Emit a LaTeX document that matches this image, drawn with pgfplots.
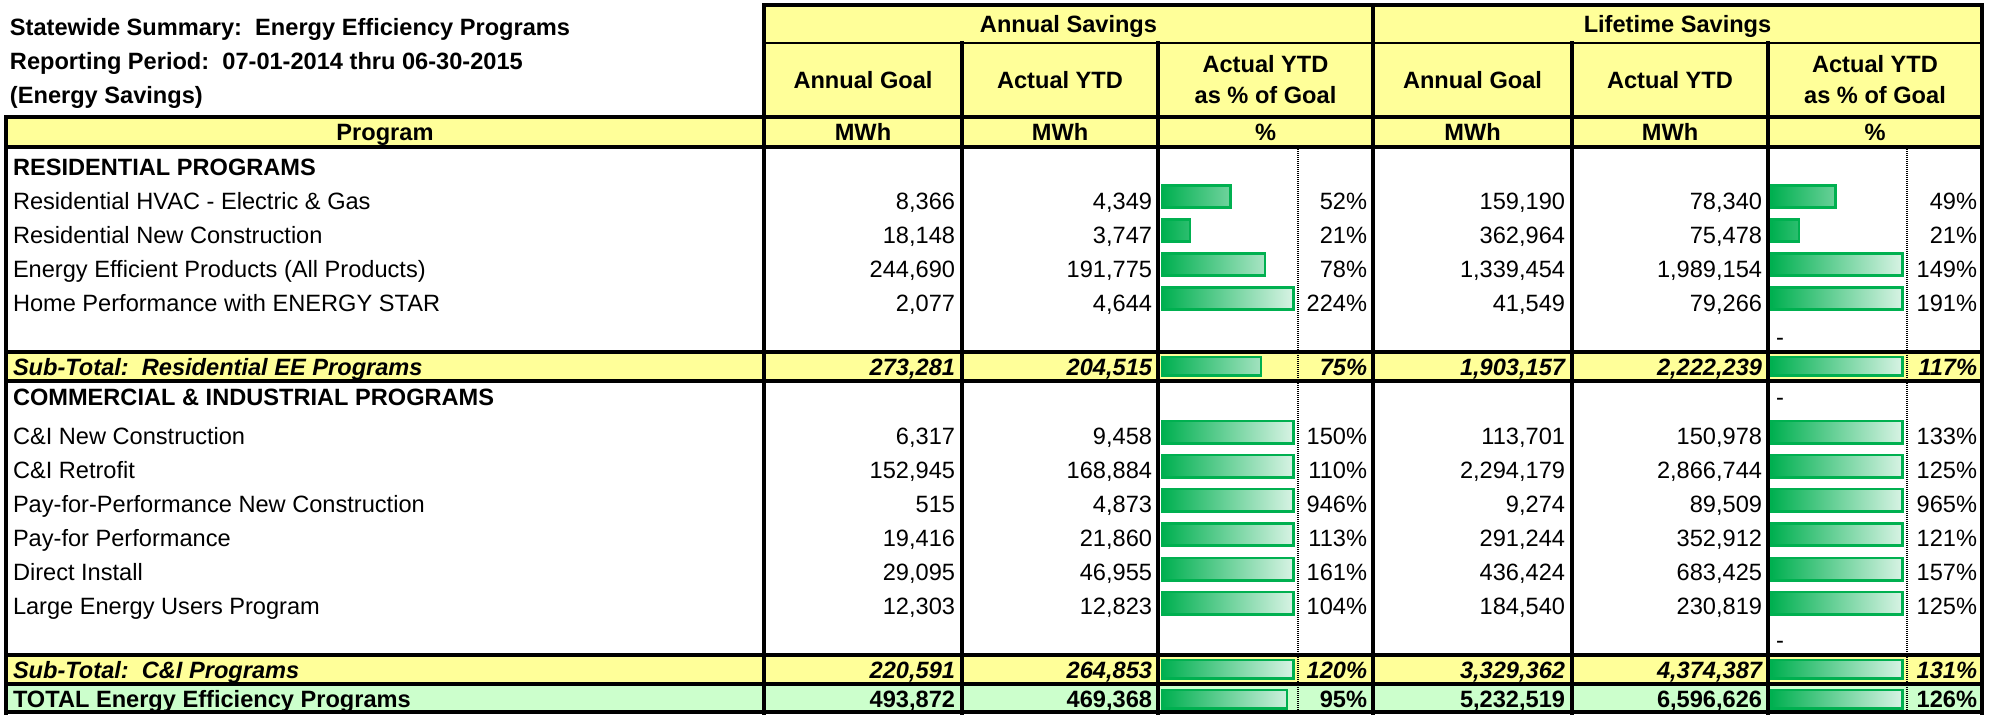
\documentclass[border=0pt]{standalone}
\usepackage{fontspec}
\setmainfont{Liberation Sans}
\usepackage{pgfplots}
\usepackage{pgfplotstable}
\pgfplotsset{compat=1.18}
\definecolor{hdr}{HTML}{FFFF99}
\definecolor{tot}{HTML}{CCFFCC}
\definecolor{barg}{HTML}{00B050}
\frenchspacing

% Annual savings: actual YTD as % of goal (row centre in px, percent)
\pgfplotstableread{
y pct
196.5 52
230.5 21
264.5 78
298.5 224
432 150
466 110
500 946
534.5 113
569 161
603 104
}\annreg
\pgfplotstableread{
y pct
366 75
669 120
699 95
}\anntot
% Lifetime savings
\pgfplotstableread{
y pct
196.5 49
230.5 21
264.5 149
298.5 191
432 133
466 125
500 965
534.5 121
569 157
603 125
}\lifereg
\pgfplotstableread{
y pct
366 117
669 131
699 126
}\lifetot

\newcommand{\fs}{\fontsize{11.8pt}{14pt}\selectfont}
\newcommand{\datarow}[8]{%
 \node[anchor=base east,font=#8] at (axis cs:955,#1) {#2};
 \node[anchor=base east,font=#8] at (axis cs:1152,#1) {#3};
 \node[anchor=base east,font=#8] at (axis cs:1367,#1) {#4};
 \node[anchor=base east,font=#8] at (axis cs:1565,#1) {#5};
 \node[anchor=base east,font=#8] at (axis cs:1762,#1) {#6};
 \node[anchor=base east,font=#8] at (axis cs:1977,#1) {#7};
}
\newcommand{\lab}[3]{\node[anchor=base west,font=#3] at (axis cs:13,#1) {#2};}

\begin{document}
\begin{tikzpicture}
\useasboundingbox (0,0) rectangle (997.5pt,357pt);
\tikzset{every node/.style={inner sep=0pt, outer sep=0pt}}
\pgfplotsset{tbl/.style={scale only axis, height=357pt, ymin=0, ymax=714, y dir=reverse, hide axis, clip=false, anchor=south west}}

\begin{axis}[tbl, at={(0pt,0pt)}, width=997.5pt, xmin=0, xmax=1995]
\addplot[draw=none, forget plot] coordinates {(0,0) (1995,714)};
% fills
\fill[hdr] (axis cs:764,5) rectangle (axis cs:1982,147);
\fill[hdr] (axis cs:6,117) rectangle (axis cs:764,147);
\fill[hdr] (axis cs:6,352) rectangle (axis cs:1982,381);
\fill[hdr] (axis cs:6,655) rectangle (axis cs:1982,684);
\fill[tot] (axis cs:6,684) rectangle (axis cs:1982,712);
% grid lines
\begin{scope}[line width=1.55pt, line cap=rect]
\draw (axis cs:764,5) -- (axis cs:1982,5);
\draw[line width=1.3pt] (axis cs:764,43) -- (axis cs:1982,43);
\foreach \yy in {117,147,352,381,655,684,712}{
  \edef\tmp{\noexpand\draw (axis cs:6,\yy) -- (axis cs:1982,\yy);}\tmp
}
\draw (axis cs:6,117) -- (axis cs:6,713);
\draw (axis cs:764,5) -- (axis cs:764,713);
\draw (axis cs:962,43) -- (axis cs:962,713);
\draw (axis cs:1158,43) -- (axis cs:1158,713);
\draw (axis cs:1373,5) -- (axis cs:1373,713);
\draw (axis cs:1572,43) -- (axis cs:1572,713);
\draw (axis cs:1768,43) -- (axis cs:1768,713);
\draw (axis cs:1982,5) -- (axis cs:1982,713);
\end{scope}
\draw[line width=1.2pt, dash pattern=on 0.6pt off 0.4pt] (axis cs:1298,147) -- (axis cs:1298,712);
\draw[line width=1.2pt, dash pattern=on 0.6pt off 0.4pt] (axis cs:1907,147) -- (axis cs:1907,712);

% titles
\node[anchor=base west,font=\fs\bfseries] at (axis cs:10,35) {Statewide Summary:\ \ Energy Efficiency Programs};
\node[anchor=base west,font=\fs\bfseries] at (axis cs:10,69) {Reporting Period:\ \ 07-01-2014 thru 06-30-2015};
\node[anchor=base west,font=\fs\bfseries] at (axis cs:10,103) {(Energy Savings)};
% headers
\node[anchor=base,font=\fs\bfseries] at (axis cs:1068.5,32) {Annual Savings};
\node[anchor=base,font=\fs\bfseries] at (axis cs:1677.5,32) {Lifetime Savings};
\node[anchor=base,font=\fs\bfseries] at (axis cs:863,88) {Annual Goal};
\node[anchor=base,font=\fs\bfseries] at (axis cs:1060,88) {Actual YTD};
\node[anchor=base,font=\fs\bfseries] at (axis cs:1265.5,72) {Actual YTD};
\node[anchor=base,font=\fs\bfseries] at (axis cs:1265.5,103) {as \% of Goal};
\node[anchor=base,font=\fs\bfseries] at (axis cs:1472.5,88) {Annual Goal};
\node[anchor=base,font=\fs\bfseries] at (axis cs:1670,88) {Actual YTD};
\node[anchor=base,font=\fs\bfseries] at (axis cs:1875,72) {Actual YTD};
\node[anchor=base,font=\fs\bfseries] at (axis cs:1875,103) {as \% of Goal};
\node[anchor=base,font=\fs\bfseries] at (axis cs:385,140) {Program};
\node[anchor=base,font=\fs\bfseries] at (axis cs:863,140) {MWh};
\node[anchor=base,font=\fs\bfseries] at (axis cs:1060,140) {MWh};
\node[anchor=base,font=\fs\bfseries] at (axis cs:1265.5,140) {\%};
\node[anchor=base,font=\fs\bfseries] at (axis cs:1472.5,140) {MWh};
\node[anchor=base,font=\fs\bfseries] at (axis cs:1670,140) {MWh};
\node[anchor=base,font=\fs\bfseries] at (axis cs:1875,140) {\%};

% row labels
\lab{175}{RESIDENTIAL PROGRAMS}{\fs\bfseries}
\lab{209}{Residential HVAC - Electric \& Gas}{\fs}
\lab{243}{Residential New Construction}{\fs}
\lab{277}{Energy Efficient Products (All Products)}{\fs}
\lab{311}{Home Performance with ENERGY STAR}{\fs}
\lab{375}{Sub-Total:\ \ Residential EE Programs}{\fs\bfseries\itshape}
\lab{405}{COMMERCIAL \& INDUSTRIAL PROGRAMS}{\fs\bfseries}
\lab{444}{C\&I New Construction}{\fs}
\lab{478}{C\&I Retrofit}{\fs}
\lab{512}{Pay-for-Performance New Construction}{\fs}
\lab{546}{Pay-for Performance}{\fs}
\lab{580}{Direct Install}{\fs}
\lab{614}{Large Energy Users Program}{\fs}
\lab{678}{Sub-Total:\ \ C\&I Programs}{\fs\bfseries\itshape}
\lab{707}{TOTAL Energy Efficiency Programs}{\fs\bfseries}

% numbers
\datarow{209}{8,366}{4,349}{52\%}{159,190}{78,340}{49\%}{\fs}
\datarow{243}{18,148}{3,747}{21\%}{362,964}{75,478}{21\%}{\fs}
\datarow{277}{244,690}{191,775}{78\%}{1,339,454}{1,989,154}{149\%}{\fs}
\datarow{311}{2,077}{4,644}{224\%}{41,549}{79,266}{191\%}{\fs}
\datarow{375}{273,281}{204,515}{75\%}{1,903,157}{2,222,239}{117\%}{\fs\bfseries\itshape}
\datarow{444}{6,317}{9,458}{150\%}{113,701}{150,978}{133\%}{\fs}
\datarow{478}{152,945}{168,884}{110\%}{2,294,179}{2,866,744}{125\%}{\fs}
\datarow{512}{515}{4,873}{946\%}{9,274}{89,509}{965\%}{\fs}
\datarow{546}{19,416}{21,860}{113\%}{291,244}{352,912}{121\%}{\fs}
\datarow{580}{29,095}{46,955}{161\%}{436,424}{683,425}{157\%}{\fs}
\datarow{614}{12,303}{12,823}{104\%}{184,540}{230,819}{125\%}{\fs}
\datarow{678}{220,591}{264,853}{120\%}{3,329,362}{4,374,387}{131\%}{\fs\bfseries\itshape}
\datarow{707}{493,872}{469,368}{95\%}{5,232,519}{6,596,626}{126\%}{\fs\bfseries}
% dashes
\node[anchor=base west,font=\fs] at (axis cs:1776,345) {-};
\node[anchor=base west,font=\fs] at (axis cs:1776,405) {-};
\node[anchor=base west,font=\fs] at (axis cs:1776,648) {-};
\end{axis}

% data bars, annual
\begin{axis}[tbl, at={(581.15pt,0pt)}, width=65.7pt, xmin=0, xmax=100]
\addplot[xbar, bar shift=0pt, bar width=11.2pt, draw=barg, line width=1.3pt, left color=barg, right color=barg!15, x filter/.expression={min(x,100)}] table[x=pct,y=y] {\annreg};
\addplot[xbar, bar shift=0pt, bar width=9.2pt, draw=barg, line width=1.3pt, left color=barg, right color=barg!15, x filter/.expression={min(x,100)}] table[x=pct,y=y] {\anntot};
\end{axis}
% data bars, lifetime
\begin{axis}[tbl, at={(885.65pt,0pt)}, width=65.7pt, xmin=0, xmax=100]
\addplot[xbar, bar shift=0pt, bar width=11.2pt, draw=barg, line width=1.3pt, left color=barg, right color=barg!15, x filter/.expression={min(x,100)}] table[x=pct,y=y] {\lifereg};
\addplot[xbar, bar shift=0pt, bar width=9.2pt, draw=barg, line width=1.3pt, left color=barg, right color=barg!15, x filter/.expression={min(x,100)}] table[x=pct,y=y] {\lifetot};
\end{axis}
\end{tikzpicture}
\end{document}
